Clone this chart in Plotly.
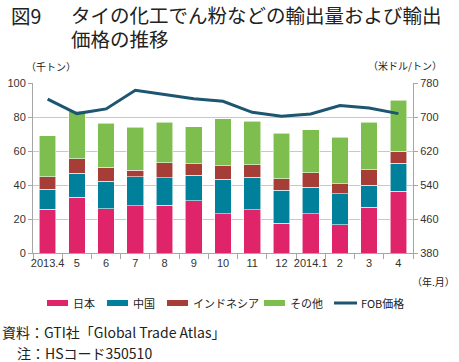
import plotly.graph_objects as go

months = ["2013.4", "5", "6", "7", "8", "9", "10", "11", "12", "2014.1", "2", "3", "4"]
japan = [25.6, 32.7, 26.0, 27.8, 28.0, 30.7, 23.0, 25.4, 17.5, 23.2, 16.7, 26.8, 36.2]
china = [11.8, 14.2, 16.3, 17.1, 16.3, 15.0, 20.3, 19.3, 19.5, 15.4, 18.3, 13.0, 16.6]
indonesia = [7.5, 8.6, 8.1, 3.9, 8.8, 6.9, 7.9, 7.1, 6.7, 8.6, 5.7, 9.2, 7.2]
others = [24.2, 27.8, 26.0, 25.2, 23.7, 21.8, 27.9, 25.6, 26.8, 25.4, 27.4, 27.8, 29.8]
fob = [742, 708, 719, 763, 753, 743, 737, 711, 702, 707, 727, 721, 708]

series = [
    ("日本", japan, "#E0246A"),
    ("中国", china, "#00809A"),
    ("インドネシア", indonesia, "#A63D37"),
    ("その他", others, "#7DBE4E"),
]
line_name = "FOB価格"
line_color = "#1C5670"

JP = "Noto Sans CJK JP, sans-serif"
NUM = "Liberation Sans, Noto Sans CJK JP, sans-serif"

fig = go.Figure()
for name, vals, col in series:
    fig.add_trace(go.Bar(
        x=months, y=vals, name=name, marker_color=col,
        marker_line=dict(color="rgba(255,255,255,0.7)", width=0.8),
        showlegend=False, yaxis="y",
    ))
fig.add_trace(go.Scatter(
    x=months, y=fob, name=line_name, mode="lines",
    line=dict(color=line_color, width=3), yaxis="y2", showlegend=False,
))

# plot area in pixels
L, R, T, B = 33, 413, 83, 253
W, H = 459, 362

def px(x):
    return (x - L) / (R - L)

def py(y):
    return (B - y) / (B - T)

shapes = []
annotations = []

# custom legend
legend_items = [(n, c) for n, _, c in series] + [(line_name, line_color)]
legend_x = [47, 107, 167, 264, 334]
for (name, col), x0 in zip(legend_items, legend_x):
    if name == line_name:
        shapes.append(dict(type="line", xref="paper", yref="paper",
                           x0=px(x0), x1=px(x0 + 23), y0=py(303), y1=py(303),
                           line=dict(color=col, width=3)))
        xt = x0 + 25
    else:
        shapes.append(dict(type="rect", xref="paper", yref="paper",
                           x0=px(x0), x1=px(x0 + 21), y0=py(300), y1=py(306),
                           fillcolor=col, line=dict(width=0)))
        xt = x0 + 24
    annotations.append(dict(text=name, xref="paper", yref="paper",
                            x=px(xt), y=py(303), xanchor="left", yanchor="middle",
                            showarrow=False, font=dict(family=JP, size=11, color="#222")))

# titles and notes
annotations += [
    dict(text="図9", xref="paper", yref="paper", x=px(9), y=py(15),
         xanchor="left", yanchor="middle", showarrow=False,
         font=dict(family=JP, size=19.5, color="#222")),
    dict(text="タイの化工でん粉などの輸出量および輸出", xref="paper", yref="paper",
         x=px(69), y=py(14), xanchor="left", yanchor="middle", showarrow=False,
         font=dict(family=JP, size=19.5, color="#222")),
    dict(text="価格の推移", xref="paper", yref="paper",
         x=px(69), y=py(38), xanchor="left", yanchor="middle", showarrow=False,
         font=dict(family=JP, size=19.5, color="#222")),
    dict(text="（千トン）", xref="paper", yref="paper", x=px(24), y=py(67),
         xanchor="left", yanchor="middle", showarrow=False,
         font=dict(family=JP, size=10, color="#222")),
    dict(text="（米ドル/トン）", xref="paper", yref="paper", x=px(366), y=py(66),
         xanchor="left", yanchor="middle", showarrow=False,
         font=dict(family=JP, size=10, color="#222")),
    dict(text="（年.月）", xref="paper", yref="paper", x=px(457), y=py(281),
         xanchor="right", yanchor="middle", showarrow=False,
         font=dict(family=JP, size=10, color="#222")),
    dict(text="資料：GTI社「Global Trade Atlas」", xref="paper", yref="paper",
         x=px(0), y=py(332), xanchor="left", yanchor="middle", showarrow=False,
         font=dict(family=JP, size=14, color="#222")),
    dict(text="注：HSコード350510", xref="paper", yref="paper",
         x=px(15), y=py(353), xanchor="left", yanchor="middle", showarrow=False,
         font=dict(family=JP, size=14, color="#222")),
]

fig.update_layout(
    width=W, height=H,
    margin=dict(l=L, r=W - R, t=T, b=H - B, pad=0, autoexpand=False),
    paper_bgcolor="white", plot_bgcolor="white",
    barmode="stack", bargap=0.43,
    showlegend=False,
    xaxis=dict(
        type="category", showgrid=False, showline=True, linecolor="#A6A6A6",
        linewidth=1, ticks="outside", tickson="boundaries", ticklen=5,
        tickcolor="#A6A6A6", tickangle=0, automargin=False,
        tickfont=dict(family=NUM, size=11, color="#333"),
    ),
    yaxis=dict(
        range=[0, 100], dtick=20, showgrid=True, gridcolor="#C8C8C8",
        showline=True, linecolor="#A6A6A6", ticks="outside", ticklen=4,
        tickcolor="#A6A6A6", automargin=False,
        tickfont=dict(family=NUM, size=11, color="#333"),
        zeroline=False,
    ),
    yaxis2=dict(
        range=[380, 780], tick0=380, dtick=80, overlaying="y", side="right",
        showgrid=False, showline=True, linecolor="#A6A6A6", ticks="outside",
        ticklen=4, tickcolor="#A6A6A6", automargin=False,
        tickfont=dict(family=NUM, size=11, color="#333"), zeroline=False,
    ),
    shapes=shapes,
    annotations=annotations,
)

fig.write_html(
    "out.html",
    config={"displayModeBar": False},
    post_script="document.body.style.margin='0';document.body.style.overflow='hidden';",
)
